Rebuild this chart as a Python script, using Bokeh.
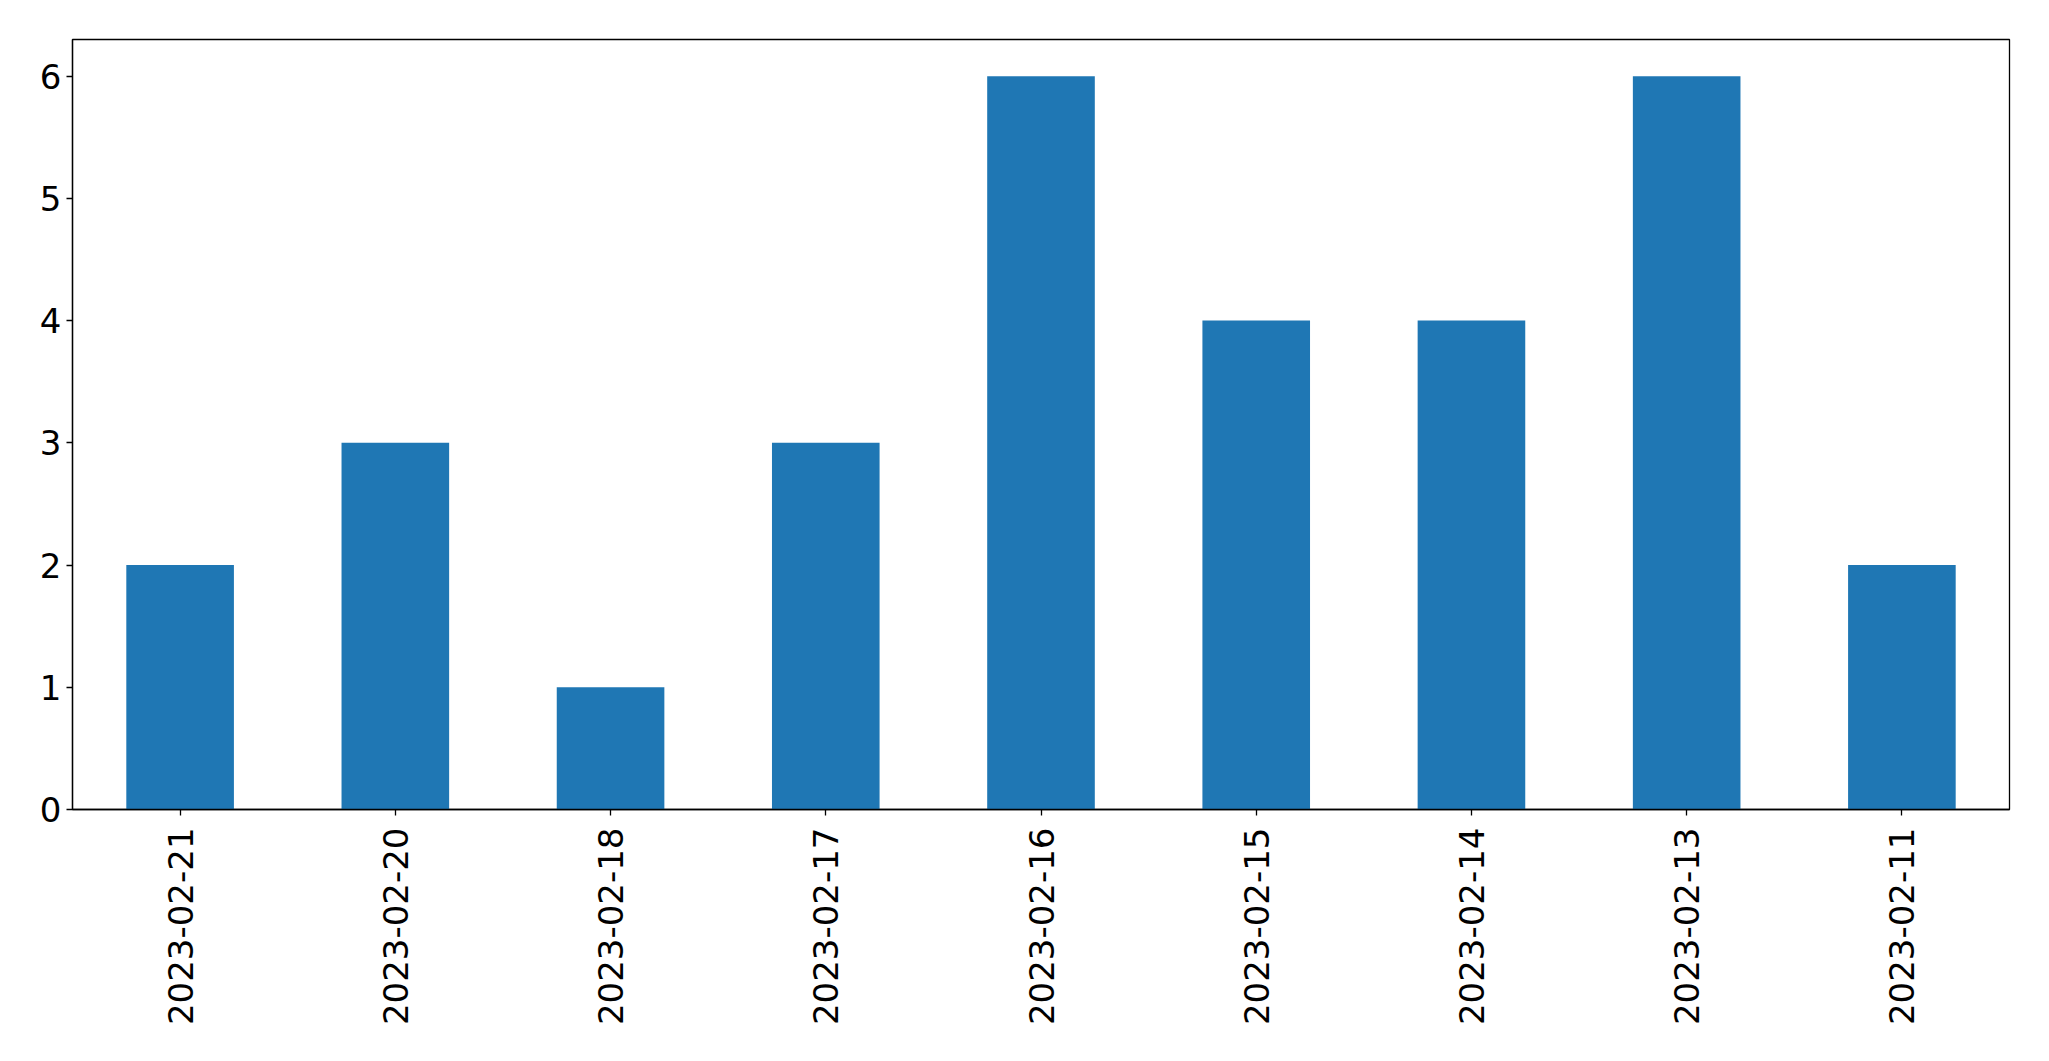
import math
from bokeh.plotting import figure
from bokeh.models import FixedTicker, Range1d
from bokeh.embed import file_html
from bokeh.resources import INLINE

dates = ["2023-02-21", "2023-02-20", "2023-02-18", "2023-02-17", "2023-02-16",
         "2023-02-15", "2023-02-14", "2023-02-13", "2023-02-11"]
counts = [2, 3, 1, 3, 6, 4, 4, 6, 2]
y_ticks = [0, 1, 2, 3, 4, 5, 6]

p = figure(x_range=dates, y_range=Range1d(0, 6.3), width=2033, height=1045,
           output_backend="svg", toolbar_location=None,
           min_border_left=72, min_border_right=24, min_border_top=39, min_border_bottom=236)
p.x_range.range_padding = 0
p.vbar(x=dates, top=counts, width=0.5, color="#1f77b4", line_color=None)

p.xgrid.visible = False
p.ygrid.visible = False
p.outline_line_color = "black"
p.outline_line_width = 1.3
p.outline_line_alpha = 1.0

for ax in (p.xaxis[0], p.yaxis[0]):
    ax.axis_line_color = "black"
    ax.axis_line_width = 1.3
    ax.major_tick_line_color = "black"
    ax.major_tick_line_width = 1.3
    ax.major_tick_out = 6
    ax.major_tick_in = 0
    ax.minor_tick_line_color = None
    ax.major_label_text_font = "DejaVu Sans"
    ax.major_label_text_font_size = "34px"
    ax.major_label_text_color = "black"

p.yaxis.ticker = FixedTicker(ticks=y_ticks)
p.yaxis.major_label_standoff = 5
p.xaxis.major_label_orientation = math.pi / 2
p.xaxis.major_label_standoff = 12

open("out.html", "w").write(file_html(p, INLINE))
